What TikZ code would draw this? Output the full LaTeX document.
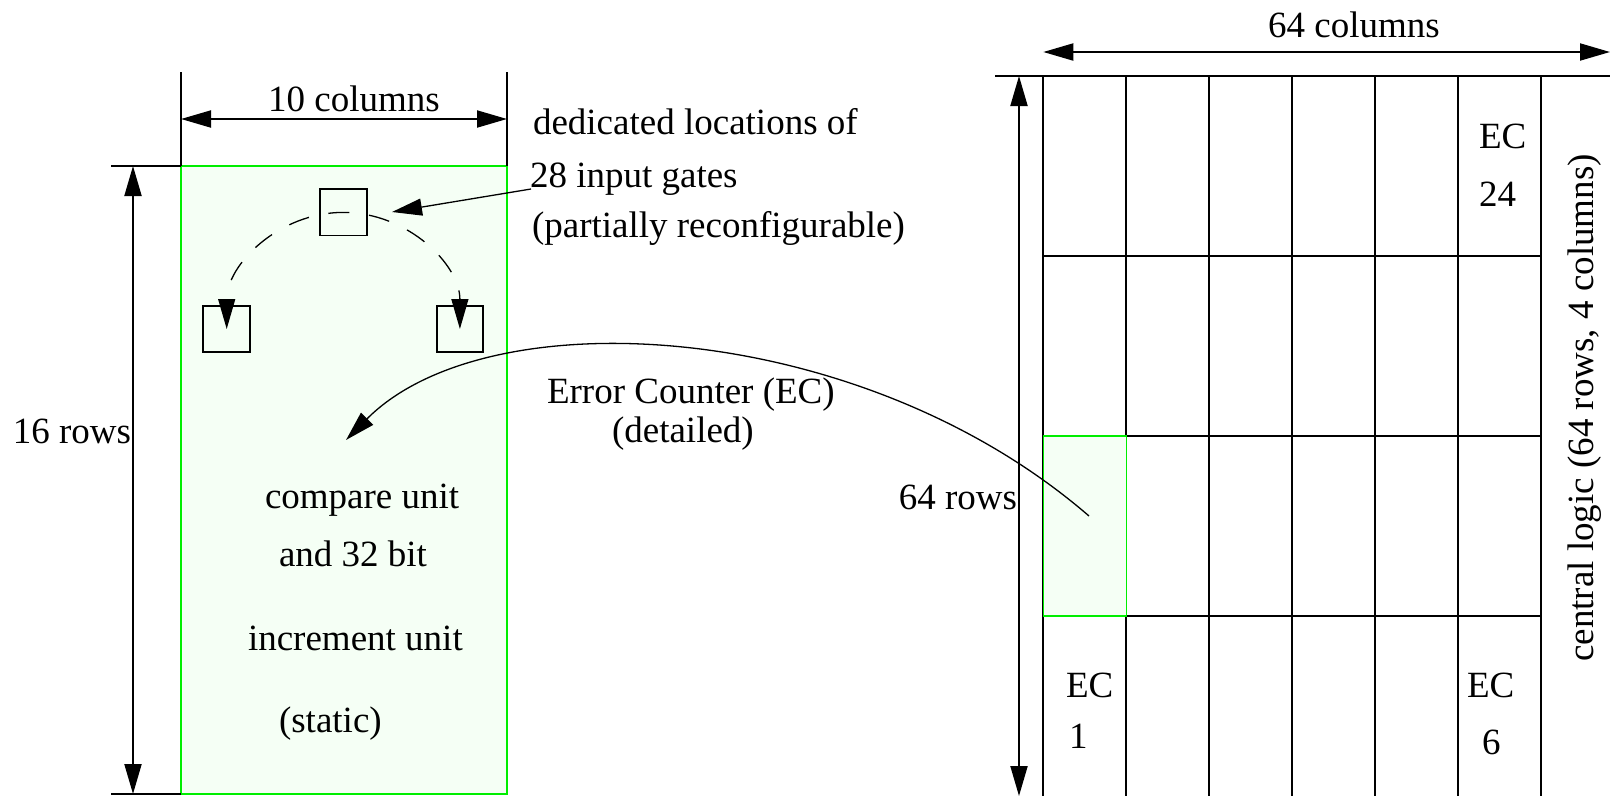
\documentclass[tikz,border=0pt]{standalone}
\usepackage{fontspec}
\setmainfont{Liberation Serif}
\newfontfamily\figfont{Liberation Serif}
\usetikzlibrary{arrows.meta}
\definecolor{ecgreen}{RGB}{0,238,0}
\definecolor{ecfill}{RGB}{245,255,245}
\begin{document}
\begin{tikzpicture}[x=1pt,y=-1pt,
  every node/.style={font=\figfont\fontsize{37pt}{44pt}\selectfont, inner sep=0pt, outer sep=0pt},
  bigtip/.tip={Triangle[length=30pt,width=17pt]},
  dimline/.style={line width=2pt, bigtip-bigtip},
  extline/.style={line width=2pt},
  thinline/.style={line width=1.3pt},
  gridline/.style={line width=2pt},
  lbl/.style={anchor=base west},
  gate/.style={draw, line width=1.8pt, minimum size=46.7pt},
  greenbox/.style={draw=ecgreen, fill=ecfill, line width=1.6pt}]

\useasboundingbox (0,0) rectangle (1610,796);

% ---------- left: detailed error counter ----------
\node[greenbox, minimum width=326pt, minimum height=628pt] (ecbox) at (344,480) {};
\node[gate] (tsq) at (343.5,212.2) {};
\node[gate] (lsq) at (226.7,329) {};
\node[gate] (rsq) at (460,329) {};
\draw[thinline, dash pattern=on 21pt off 19.9pt, dash phase=21pt, bigtip-bigtip]
  (lsq.center) arc[start angle=180, end angle=0, radius=116.6pt];

% extension lines
\coordinate (tl) at (181,72);
\coordinate (tr) at (507,72);
\coordinate (lt) at (111,166);
\coordinate (lb) at (111,794);
\draw[extline] (ecbox.north west) -- (tl);
\draw[extline] (ecbox.north east) -- (tr);
\draw[extline] (ecbox.north west) -- (lt);
\draw[extline] (ecbox.south west) -- (lb);

% dimension arrows
\coordinate (c10a) at (181,119);
\coordinate (c10b) at (507,119);
\draw[dimline] (c10a) -- (c10b);
\coordinate (r16a) at (133,166);
\coordinate (r16b) at (133,794);
\draw[dimline] (r16a) -- (r16b);

\node[anchor=base] (t10) at (354,111.7) {10 columns};
\node[anchor=base east] (t16) at (131,443) {16 rows};

\node[lbl] (d1) at (533,134) {dedicated locations of};
\node[lbl] (d2) at (530,187) {28 input gates};
\node[lbl] (d3) at (532,237) {(partially reconfigurable)};

\node[lbl] (u1) at (265,508) {compare unit};
\node[lbl] (u2) at (279,566) {and 32 bit};
\node[lbl] (u3) at (248,650) {increment unit};
\node[lbl] (u4) at (279,732) {(static)};

\node[lbl] (e1) at (547,403) {Error Counter (EC)};
\node[lbl] (e2) at (612,442) {(detailed)};

% pointer to input gates
\coordinate (ps) at (531,189);
\coordinate (pe) at (392,212);
\draw[thinline,-bigtip] (ps) -- (pe);

% ---------- right: array of error counters ----------
\foreach \x in {1043.3,1126.3,1209.3,1292.3,1375.3,1458.3,1541.3}
  \draw[gridline] (\x,76) -- (\x,796);
\foreach \y in {256,436,616}
  \draw[gridline] (1043.3,\y) -- (1541.3,\y);
\coordinate (topl) at (995,76);
\coordinate (topr) at (1610,76);
\draw[gridline] (topl) -- (topr);

\node[greenbox, line width=1.4pt, minimum width=83pt, minimum height=180pt] (cell) at (1084.8,526) {};

\coordinate (va) at (1019,76);
\coordinate (vb) at (1019,796);
\draw[dimline] (va) -- (vb);
\coordinate (ha) at (1043.3,52);
\coordinate (hb) at (1610,52);
\draw[dimline] (ha) -- (hb);

\node[anchor=base] (t64c) at (1354,37) {64 columns};
\node[anchor=base east] (t64r) at (1017,509) {64 rows};

\node[lbl] (ec24a) at (1479,148) {EC};
\node[lbl] (ec24b) at (1479,206) {24};
\node[lbl] (ec1a) at (1066,697) {EC};
\node[lbl] (ec1b) at (1069,748) {1};
\node[lbl] (ec6a) at (1467,697) {EC};
\node[lbl] (ec6b) at (1482,754) {6};

\node[rotate=90, anchor=base] (cl) at (1593,408) {central logic (64 rows, 4 columns)};

% curved arrow from array cell to detail
\coordinate (cs) at (1089,516);
\coordinate (ce) at (346,440);
\draw[thinline,-bigtip] (cs) .. controls (860,318) and (488,297) .. (ce);

\end{tikzpicture}
\end{document}
